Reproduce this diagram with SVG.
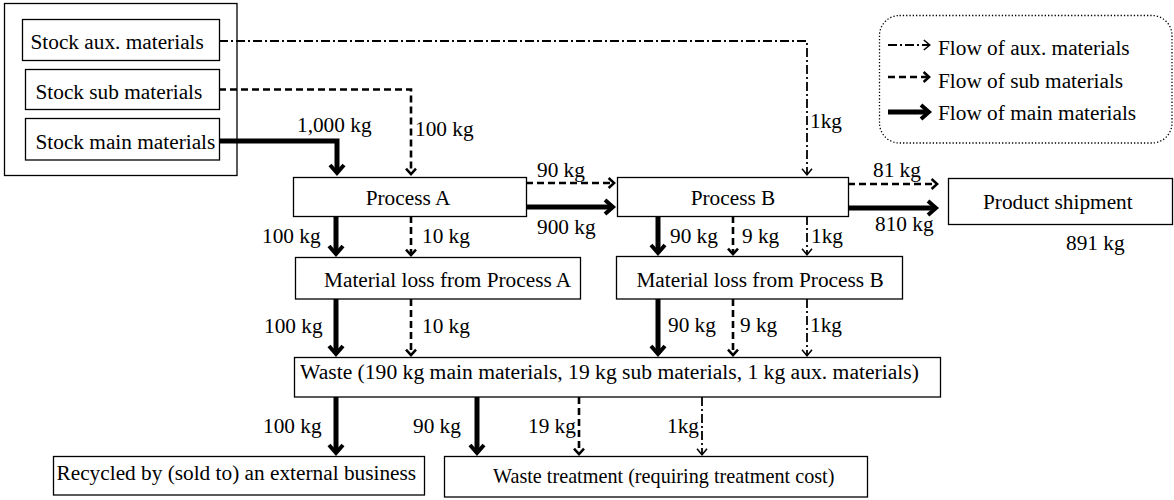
<svg xmlns="http://www.w3.org/2000/svg" width="1174" height="500" viewBox="0 0 1174 500" font-family="'Liberation Serif', 'DejaVu Serif', serif">
  <style>
    text { font-family: 'Liberation Serif', 'DejaVu Serif', serif; font-size: 21.3px; fill: #000; }
    .box { fill: #fff; stroke: #000; stroke-width: 1.3; }
    .main { fill: none; stroke: #000; stroke-width: 5; stroke-linejoin: miter; }
    .sub { fill: none; stroke: #000; stroke-width: 2.6; stroke-dasharray: 7 4; }
    .aux { fill: none; stroke: #000; stroke-width: 1.8; stroke-dasharray: 9 3 2 3; }
    .c { text-anchor: middle; }
  </style>
  <defs>
    <marker id="mMain" viewBox="-12 -12 24 24" markerWidth="24" markerHeight="24" refX="0" refY="0" orient="auto" markerUnits="userSpaceOnUse">
      <path d="M-7,-7 L1,0 L-7,7" fill="none" stroke="#000" stroke-width="4" stroke-dasharray="none" stroke-linejoin="miter"/>
    </marker>
    <marker id="mSub" viewBox="-10 -10 20 20" markerWidth="20" markerHeight="20" refX="0" refY="0" orient="auto" markerUnits="userSpaceOnUse">
      <path d="M-5,-5 L0.5,0 L-5,5" fill="none" stroke="#000" stroke-width="2.5" stroke-dasharray="none" stroke-linejoin="miter"/>
    </marker>
    <marker id="mAux" viewBox="-10 -10 20 20" markerWidth="20" markerHeight="20" refX="0" refY="0" orient="auto" markerUnits="userSpaceOnUse">
      <path d="M-6,-5 L0,0 L-6,5" fill="none" stroke="#000" stroke-width="1.5" stroke-dasharray="none" stroke-linejoin="miter"/>
    </marker>
  </defs>

  <rect width="1174" height="500" fill="#fff"/>

  <!-- stock store -->
  <g id="stock">
    <rect class="box" x="4.5" y="3.5" width="232.5" height="172"/>
  </g>
  <g id="stock-aux">
    <rect class="box" x="22.5" y="19.5" width="197" height="41"/>
    <text x="30.5" y="48.5">Stock aux. materials</text>
  </g>
  <g id="stock-sub">
    <rect class="box" x="25.5" y="69.5" width="194" height="40"/>
    <text x="35.5" y="98.5">Stock sub materials</text>
  </g>
  <g id="stock-main">
    <rect class="box" x="25.5" y="118.5" width="194" height="41.5"/>
    <text x="35.5" y="148.5">Stock main materials</text>
  </g>

  <!-- processes -->
  <g id="process-a">
    <rect class="box" x="293.5" y="177.5" width="233" height="39"/>
    <text class="c" x="408" y="205">Process A</text>
  </g>
  <g id="process-b">
    <rect class="box" x="617.5" y="177.5" width="231" height="39"/>
    <text class="c" x="733" y="205">Process B</text>
  </g>
  <g id="product">
    <rect class="box" x="948.5" y="178.5" width="224" height="46"/>
    <text x="983" y="208.5">Product shipment</text>
    <text x="1066" y="250">891 kg</text>
  </g>

  <!-- losses -->
  <g id="loss-a">
    <rect class="box" x="295.5" y="257.5" width="285" height="41.5"/>
    <text x="324" y="286.5">Material loss from Process A</text>
  </g>
  <g id="loss-b">
    <rect class="box" x="616.5" y="256.5" width="286" height="42.5"/>
    <text class="c" x="760" y="286.5">Material loss from Process B</text>
  </g>

  <!-- waste and its destinations -->
  <g id="waste">
    <rect class="box" x="294.5" y="357.5" width="646" height="39.5"/>
    <text x="300" y="378.5" style="font-size:21.6px">Waste (190 kg main materials, 19 kg sub materials, 1 kg aux. materials)</text>
  </g>
  <g id="recycled">
    <rect class="box" x="53.5" y="456.5" width="371" height="38.5"/>
    <text x="56.5" y="479.5">Recycled by (sold to) an external business</text>
  </g>
  <g id="treatment">
    <rect class="box" x="444.5" y="456.5" width="423" height="40.5"/>
    <text x="493" y="483" style="font-size:20.2px">Waste treatment (requiring treatment cost)</text>
  </g>

  <!-- legend -->
  <g id="legend">
    <rect x="879.5" y="15.5" width="292.5" height="127.5" rx="20" ry="20" fill="none" stroke="#000" stroke-width="1.3" stroke-dasharray="1.3 2"/>
    <path class="aux" d="M888,45 H929.8" stroke-dasharray="10 3 2 3" marker-end="url(#mAux)"/>
    <path class="sub" d="M888,77 H928.6" stroke-dasharray="7 3.5" marker-end="url(#mSub)"/>
    <path class="main" d="M888,112 H928" marker-end="url(#mMain)"/>
    <text x="938" y="55">Flow of aux. materials</text>
    <text x="938" y="87.5">Flow of sub materials</text>
    <text x="938" y="120">Flow of main materials</text>
  </g>

  <!-- flows -->
  <g id="connectors">
    <!-- supply from stock -->
    <path class="aux" d="M219,41 H807 V174.8" marker-end="url(#mAux)"/>
    <path class="sub" d="M219,89.5 H411 V173.6" marker-end="url(#mSub)"/>
    <path class="main" d="M219,141 H337 V172" marker-end="url(#mMain)"/>

    <!-- process A to process B -->
    <path class="sub" d="M526,183 H613.6" marker-end="url(#mSub)"/>
    <path class="main" d="M526,207 H612" marker-end="url(#mMain)"/>

    <!-- process B to product -->
    <path class="sub" d="M848,184 H936.6" marker-end="url(#mSub)"/>
    <path class="main" d="M848,208 H935" marker-end="url(#mMain)"/>

    <!-- process A to loss A -->
    <path class="main" d="M336,216 V253" marker-end="url(#mMain)"/>
    <path class="sub" d="M411,216 V254.6" marker-end="url(#mSub)"/>

    <!-- process B to loss B -->
    <path class="main" d="M658,216 V252" marker-end="url(#mMain)"/>
    <path class="sub" d="M733,216 V253.6" marker-end="url(#mSub)"/>
    <path class="aux" d="M807,216 V254.8" marker-end="url(#mAux)"/>

    <!-- loss A to waste -->
    <path class="main" d="M336,299 V353" marker-end="url(#mMain)"/>
    <path class="sub" d="M411,299 V354.6" marker-end="url(#mSub)"/>

    <!-- loss B to waste -->
    <path class="main" d="M658,299 V353" marker-end="url(#mMain)"/>
    <path class="sub" d="M733,299 V354.6" marker-end="url(#mSub)"/>
    <path class="aux" d="M807,299 V355.8" marker-end="url(#mAux)"/>

    <!-- waste to destinations -->
    <path class="main" d="M336,397 V452" marker-end="url(#mMain)"/>
    <path class="main" d="M477,397 V452" marker-end="url(#mMain)"/>
    <path class="sub" d="M579,397 V453.6" marker-end="url(#mSub)"/>
    <path class="aux" d="M702,397 V454.8" marker-end="url(#mAux)"/>
  </g>

  <!-- flow quantities -->
  <g id="labels">
    <text x="297" y="132">1,000 kg</text>
    <text x="415" y="136">100 kg</text>
    <text x="810" y="128">1kg</text>
    <text x="537" y="177">90 kg</text>
    <text x="537" y="234">900 kg</text>
    <text x="873" y="177">81 kg</text>
    <text x="875" y="231">810 kg</text>

    <text x="262" y="243">100 kg</text>
    <text x="422" y="243">10 kg</text>
    <text x="670" y="243">90 kg</text>
    <text x="742" y="243">9 kg</text>
    <text x="811" y="243">1kg</text>

    <text x="264" y="333">100 kg</text>
    <text x="422" y="333">10 kg</text>
    <text x="668" y="332">90 kg</text>
    <text x="740" y="332">9 kg</text>
    <text x="810" y="332">1kg</text>

    <text x="263" y="433">100 kg</text>
    <text x="413" y="433">90 kg</text>
    <text x="528" y="433">19 kg</text>
    <text x="667" y="433">1kg</text>
  </g>
</svg>
